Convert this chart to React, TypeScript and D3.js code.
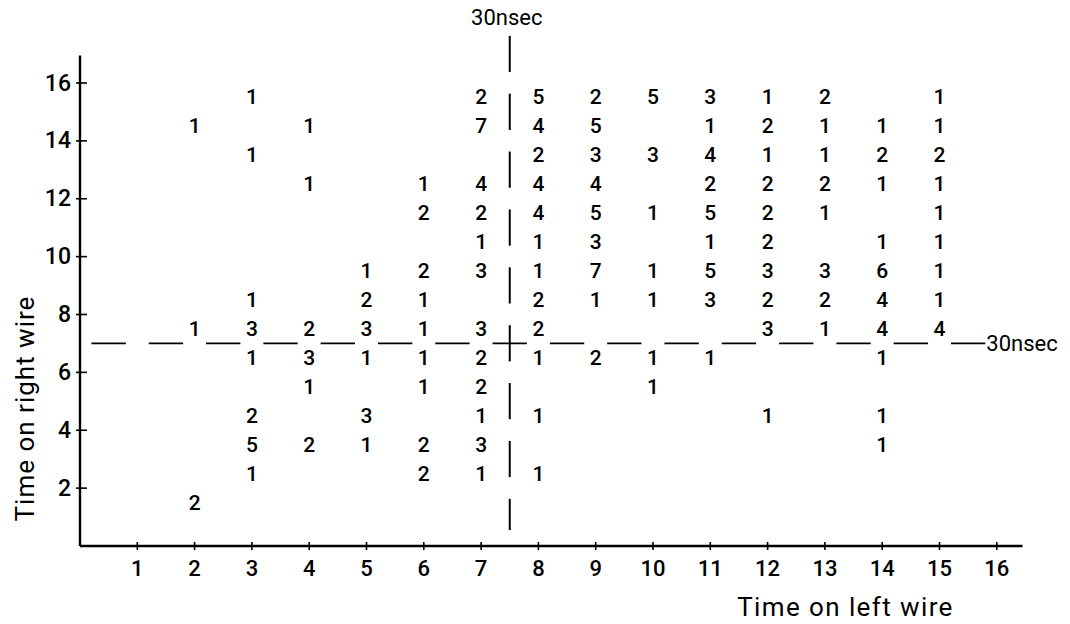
import * as d3 from "d3";

// counts per row; each array runs over left-wire columns 1..15 (0 = empty cell)
const COLS = d3.range(1, 16);
const ROW_Y = [15.5, 14.5, 13.5, 12.5, 11.5, 10.5, 9.5, 8.5, 7.5, 6.5, 5.5, 4.5, 3.5, 2.5, 1.5];
const r15 = [0, 0, 1, 0, 0, 0, 2, 5, 2, 5, 3, 1, 2, 0, 1];
const r14 = [0, 1, 0, 1, 0, 0, 7, 4, 5, 0, 1, 2, 1, 1, 1];
const r13 = [0, 0, 1, 0, 0, 0, 0, 2, 3, 3, 4, 1, 1, 2, 2];
const r12 = [0, 0, 0, 1, 0, 1, 4, 4, 4, 0, 2, 2, 2, 1, 1];
const r11 = [0, 0, 0, 0, 0, 2, 2, 4, 5, 1, 5, 2, 1, 0, 1];
const r10 = [0, 0, 0, 0, 0, 0, 1, 1, 3, 0, 1, 2, 0, 1, 1];
const r9 = [0, 0, 0, 0, 1, 2, 3, 1, 7, 1, 5, 3, 3, 6, 1];
const r8 = [0, 0, 1, 0, 2, 1, 0, 2, 1, 1, 3, 2, 2, 4, 1];
const r7 = [0, 1, 3, 2, 3, 1, 3, 2, 0, 0, 0, 3, 1, 4, 4];
const r6 = [0, 0, 1, 3, 1, 1, 2, 1, 2, 1, 1, 0, 0, 1, 0];
const r5 = [0, 0, 0, 1, 0, 1, 2, 0, 0, 1, 0, 0, 0, 0, 0];
const r4 = [0, 0, 2, 0, 3, 0, 1, 1, 0, 0, 0, 1, 0, 1, 0];
const r3 = [0, 0, 5, 2, 1, 2, 3, 0, 0, 0, 0, 0, 0, 1, 0];
const r2 = [0, 0, 1, 0, 0, 2, 1, 1, 0, 0, 0, 0, 0, 0, 0];
const r1 = [0, 2, 0, 0, 0, 0, 0, 0, 0, 0, 0, 0, 0, 0, 0];
const ROWS = [r15, r14, r13, r12, r11, r10, r9, r8, r7, r6, r5, r4, r3, r2, r1];

const X_TICKS = d3.range(1, 17);
const Y_TICKS = [2, 4, 6, 8, 10, 12, 14, 16];
const CUT_LEFT = 7.5; // 30nsec on left wire
const CUT_RIGHT = 7; // 30nsec on right wire

const FONT = "Roboto, 'DejaVu Sans', sans-serif";

export default function App() {
  const x = d3.scaleLinear().domain([0, 16]).range([80, 996.8]);
  const y = d3.scaleLinear().domain([0, 16]).range([546, 83]);

  const cells = ROWS.flatMap((row, i) =>
    row.map((v, j) => ({ v, col: COLS[j], ry: ROW_Y[i] })).filter((d) => d.v > 0),
  );

  // horizontal cut: one dash per column gap
  const hDashes = d3.range(0, 16).map((k) => [x(k + 0.2), x(k + 0.8)]);
  // vertical cut: dashes centred on odd values
  const vDashes = d3
    .range(17, 0, -2)
    .map((c) => [y(Math.min(c + 0.63, 17.63)), y(Math.max(c - 0.62, 0.55))]);

  return (
    <svg
      width={1070}
      height={624}
      style={{ position: "absolute", left: 0, top: 0, background: "#fff" }}
      fontFamily={FONT}
    >
      {/* axes */}
      <line x1={x(0)} x2={x(0)} y1={y(0)} y2={y(16.95)} stroke="#000" strokeWidth={2.4} />
      <line x1={x(0)} x2={x(16.45)} y1={y(0)} y2={y(0)} stroke="#000" strokeWidth={2.4} />
      {Y_TICKS.map((t) => (
        <g key={`y${t}`}>
          <line x1={x(0) - 4} x2={x(0) + 7} y1={y(t)} y2={y(t)} stroke="#000" strokeWidth={1.6} />
          <text x={x(0) - 9} y={y(t)} textAnchor="end" dominantBaseline="central" fontSize={23} fontWeight={500}>
            {t}
          </text>
        </g>
      ))}
      {X_TICKS.map((t) => (
        <g key={`x${t}`}>
          <line x1={x(t)} x2={x(t)} y1={y(0) - 4} y2={y(0) + 4} stroke="#000" strokeWidth={1.6} />
          <text x={x(t)} y={y(0) + 22} textAnchor="middle" dominantBaseline="central" fontSize={22} fontWeight={500}>
            {t}
          </text>
        </g>
      ))}

      {/* 30nsec cuts */}
      {hDashes.map(([a, b], i) => (
        <line key={`h${i}`} x1={a} x2={b} y1={y(CUT_RIGHT)} y2={y(CUT_RIGHT)} stroke="#000" strokeWidth={1.8} />
      ))}
      {vDashes.map(([a, b], i) => (
        <line key={`v${i}`} x1={x(CUT_LEFT)} x2={x(CUT_LEFT)} y1={a} y2={b} stroke="#000" strokeWidth={2} />
      ))}
      <text x={x(CUT_LEFT) - 3} y={y(18.28)} textAnchor="middle" dominantBaseline="central" fontSize={22}>
        30nsec
      </text>
      <text x={x(15.8) + 1} y={y(CUT_RIGHT)} textAnchor="start" dominantBaseline="central" fontSize={22}>
        30nsec
      </text>

      {/* counts */}
      {cells.map((d, i) => (
        <text
          key={i}
          x={x(d.col)}
          y={y(d.ry)}
          textAnchor="middle"
          dominantBaseline="central"
          fontSize={21}
          fontWeight={500}
        >
          {d.v}
        </text>
      ))}

      {/* axis titles */}
      <text
        transform={`translate(${25},${y(4.75)}) rotate(-90)`}
        textAnchor="middle"
        dominantBaseline="central"
        fontSize={26}
        letterSpacing={1}
      >
        Time on right wire
      </text>
      <text
        x={x(15.25)}
        y={y(0) + 61}
        textAnchor="end"
        dominantBaseline="central"
        fontSize={26}
        letterSpacing={1.4}
      >
        Time on left wire
      </text>
    </svg>
  );
}
